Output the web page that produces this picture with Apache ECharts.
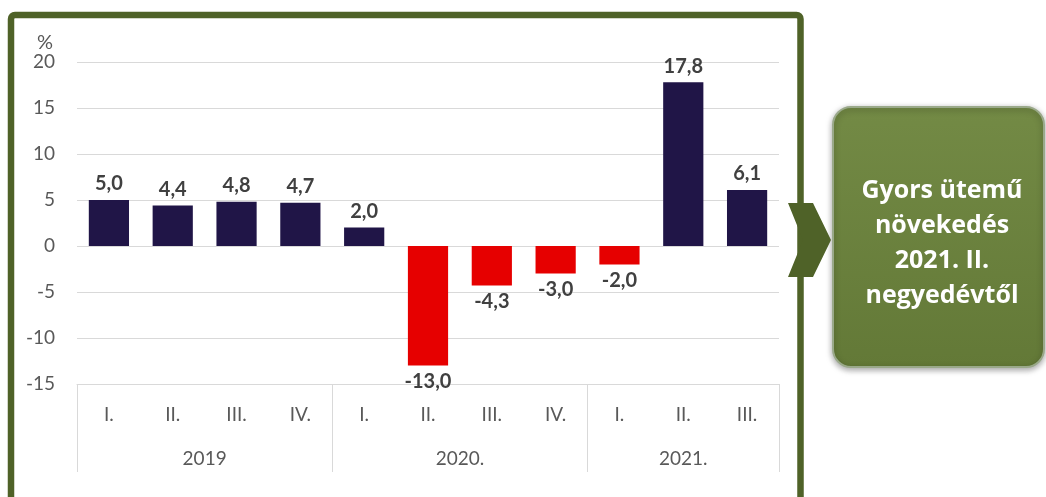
<!DOCTYPE html>
<html>
<head>
<meta charset="utf-8">
<script src="https://cdn.jsdelivr.net/npm/echarts@6/dist/echarts.min.js"></script>
<style>
  html, body { margin: 0; padding: 0; background: #fff; }
  #chart { width: 1046px; height: 497px; }
</style>
</head>
<body>
<div id="chart"></div>
<script>
// adatok
const quarters = ['I.', 'II.', 'III.', 'IV.', 'I.', 'II.', 'III.', 'IV.', 'I.', 'II.', 'III.'];
const years = ['2019', '2020.', '2021.'];
const quartersPerYear = [4, 4, 3];
const values = [5.0, 4.4, 4.8, 4.7, 2.0, -13.0, -4.3, -3.0, -2.0, 17.8, 6.1];
const yTicks = [-15, -10, -5, 0, 5, 10, 15, 20];
const boxLines = ['Gyors ütemű', 'növekedés', '2021. II.', 'negyedévtől'];

const FONT = 'Lato, "Open Sans", sans-serif';
const OLIVE = '#4F6228';

// évhatárok és évközepek a kategória-tengelyen
const bounds = [0];
quartersPerYear.forEach(n => bounds.push(bounds[bounds.length - 1] + n));
const mids = years.map((y, i) => (bounds[i] + bounds[i + 1]) / 2);

const chart = echarts.init(document.getElementById('chart'));

const option = {
  animation: false,
  grid: { left: 77, right: 267, top: 62, bottom: 113 },
  yAxis: {
    type: 'value',
    min: yTicks[0],
    max: yTicks[yTicks.length - 1],
    interval: 5,
    name: '%',
    nameLocation: 'end',
    nameGap: 7,
    nameTextStyle: { color: '#595959', fontSize: 20, fontFamily: FONT, align: 'right', padding: [0, 24, 0, 0] },
    axisLine: { show: false },
    axisTick: { show: false },
    axisLabel: { color: '#595959', fontSize: 19, fontFamily: FONT, margin: 22 },
    splitLine: { lineStyle: { color: '#D9D9D9', width: 1 } }
  },
  xAxis: [
    {
      type: 'category',
      data: quarters,
      position: 'bottom',
      axisLine: { onZero: false, lineStyle: { color: '#D9D9D9' } },
      axisTick: { show: false },
      axisLabel: { color: '#595959', fontSize: 19, fontFamily: FONT, margin: 21, interval: 0 },
      splitLine: { show: false }
    },
    {
      type: 'value',
      min: 0,
      max: quarters.length,
      position: 'bottom',
      axisLine: { show: false, onZero: false },
      axisTick: {
        show: true,
        customValues: bounds,
        length: 88,
        lineStyle: { color: '#D9D9D9' }
      },
      axisLabel: {
        customValues: mids,
        formatter: v => years[mids.indexOf(v)],
        color: '#595959', fontSize: 19, fontFamily: FONT, margin: 65
      },
      splitLine: { show: false }
    }
  ],
  series: [
    {
      type: 'bar',
      xAxisIndex: 0,
      barCategoryGap: '37%',
      data: values.map(v => ({
        value: v,
        itemStyle: { color: v >= 0 ? '#201547' : '#E60000' },
        label: { position: v >= 0 ? 'top' : 'bottom' }
      })),
      label: {
        show: true,
        distance: 6,
        color: '#404040',
        fontWeight: 'bold',
        fontSize: 20,
        fontFamily: FONT,
        formatter: p => p.value.toFixed(1).replace('.', ',')
      }
    }
  ],
  graphic: [
    {
      type: 'rect',
      z: 100,
      shape: { x: 11, y: 15, width: 789.5, height: 520, r: 4 },
      style: { fill: 'none', stroke: OLIVE, lineWidth: 6.5 }
    },
    {
      type: 'polygon',
      z: 101,
      shape: { points: [[788, 203], [813, 203], [831, 240], [813, 277], [788, 277], [803, 240]] },
      style: { fill: OLIVE }
    },
    {
      type: 'rect',
      z: 100,
      shape: { x: 833, y: 107, width: 211, height: 260, r: 18 },
      style: {
        fill: new echarts.graphic.LinearGradient(0, 0, 0, 1, [
          { offset: 0, color: '#738A45' },
          { offset: 1, color: '#637937' }
        ]),
        stroke: '#9AA98A',
        lineWidth: 2,
        shadowBlur: 6,
        shadowColor: 'rgba(0,0,0,0.35)',
        shadowOffsetY: 2
      }
    },
    {
      type: 'text',
      z: 102,
      x: 942,
      y: 243,
      style: {
        text: boxLines.join('\n'),
        fill: '#fff',
        font: 'bold 25px "Open Sans", sans-serif',
        lineHeight: 35,
        align: 'center',
        verticalAlign: 'middle'
      }
    }
  ]
};

chart.setOption(option);
</script>
</body>
</html>
